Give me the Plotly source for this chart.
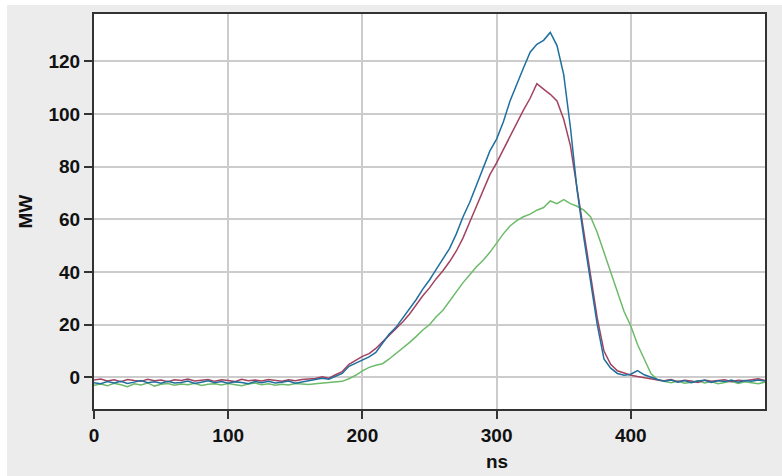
import plotly.graph_objects as go

ns = [5 * i for i in range(101)]

blue_mw = [
    -2.0, -2.4, -1.6, -2.1, -1.5, -2.3, -1.8, -1.2, -2.0, -1.7, -2.2, -1.5, -2.1, -1.9, -1.4, -2.3, -1.8,
    -1.3, -2.0, -1.6, -2.2, -1.7, -1.9, -2.4, -1.6, -2.0, -1.5, -2.1, -1.8, -1.4, -2.2, -1.7, -1.2,
    -0.8, -0.3, -0.7, 0.4, 1.5, 4.2, 5.5, 6.5, 7.8, 9.5,
    13.0, 16.5, 19.0, 22.5, 26.0, 29.5, 33.5, 37.0, 41.0, 45.0,
    49.0, 54.5, 61.0, 66.5, 73.0, 80.0, 86.0, 90.5, 97.0, 105.0,
    111.5, 117.5, 123.5, 126.5, 128.0, 131.0, 126.0, 115.0, 95.0, 71.0,
    53.0, 37.0, 20.0, 7.0, 3.5, 1.5, 0.8, 1.2, 2.6, 1.0,
    0.0,
    -0.8, -1.5, -1.0, -1.8, -1.2, -2.0, -1.4, -1.1, -1.9, -1.3, -1.6, -1.0, -1.8, -1.2, -1.5, -1.0, -1.4,
]

red_mw = [
    -1.0, -0.6, -1.4, -0.9, -1.6, -0.8, -1.2, -1.5, -0.7, -1.3, -1.0, -1.6, -0.9, -1.2, -0.6, -1.4, -1.1,
    -0.8, -1.5, -0.9, -1.2, -1.6, -0.7, -1.3, -1.0, -1.4, -0.8, -1.1, -1.5, -0.9, -1.3, -0.8, -0.6,
    -0.4, 0.2, -0.3, 1.0, 2.2, 5.0, 6.5, 8.0, 9.0, 11.0,
    13.5, 16.0, 18.5, 21.0, 24.0, 27.5, 31.0, 34.0, 37.5, 40.5,
    44.0, 48.0, 53.0, 59.0, 65.0, 71.0, 77.0, 81.5, 86.5, 92.0,
    97.0, 101.5, 106.0, 111.5, 109.5, 107.5, 105.0, 98.0, 88.0, 72.0,
    55.0, 38.5, 22.5, 10.0, 5.0, 2.5, 1.5, 0.8, 0.3, -0.2,
    -0.6,
    -1.0, -1.3, -0.8, -1.6, -1.1, -1.4, -1.9, -1.0, -1.5, -1.2, -0.9, -1.6, -1.1, -1.3, -0.8, -0.5, -1.2,
]

green_mw = [
    -3.0, -2.5, -3.2, -2.2, -2.8, -3.5, -2.4, -2.9, -2.1, -3.3, -2.6, -2.3, -3.0, -2.5, -2.8, -2.2, -3.1,
    -2.6, -2.4, -2.9, -2.3, -2.7, -3.2, -2.5, -2.1, -2.8, -2.4, -3.0, -2.6, -2.9, -2.3, -2.5, -2.7,
    -2.4, -2.2, -2.0, -1.9, -1.5, -0.5, 0.8, 2.5, 3.8, 4.6,
    5.2, 7.0, 9.0, 11.0, 13.2, 15.5, 18.0, 20.0, 23.0, 25.5,
    29.0, 32.5, 36.0, 39.0, 42.0, 44.5, 47.5, 51.0, 54.5, 57.5,
    59.5, 61.0, 62.0, 63.5, 64.5, 67.0, 66.0, 67.5, 66.0, 65.0,
    63.5, 61.0, 55.0, 47.5, 40.0, 32.0, 25.0, 19.5, 12.5, 7.0,
    1.5,
    -1.0, -1.6, -2.0, -1.4, -2.2, -1.8, -1.3, -2.1, -1.6, -2.4, -1.9, -1.5, -2.3, -1.7, -2.0, -2.4, -1.8,
]

x_ticks = [0, 100, 200, 300, 400]
y_ticks = [0, 20, 40, 60, 80, 100, 120]

label_font = dict(family="Liberation Sans, Arial", size=19, color="#111111", weight="bold")

fig = go.Figure()
fig.add_trace(go.Scatter(x=ns, y=green_mw, mode="lines", line=dict(color="#6dbb6a", width=1.5)))
fig.add_trace(go.Scatter(x=ns, y=red_mw, mode="lines", line=dict(color="#a3425f", width=1.5)))
fig.add_trace(go.Scatter(x=ns, y=blue_mw, mode="lines", line=dict(color="#1f6f9f", width=1.5)))

axis_common = dict(
    showline=True, linecolor="#333333", linewidth=2, mirror=True,
    ticks="outside", ticklen=8, tickwidth=2, tickcolor="#333333",
    showgrid=True, gridcolor="#cccccc", gridwidth=1.5, zeroline=False,
    tickfont=label_font,
)

fig.update_layout(
    width=782, height=476,
    margin=dict(l=94, r=17, t=14, b=67),
    paper_bgcolor="#ececec", plot_bgcolor="white",
    showlegend=False,
    xaxis=dict(range=[0, 500], tickvals=x_ticks, **axis_common),
    yaxis=dict(range=[-12, 138], tickvals=y_ticks, **axis_common),
    annotations=[
        dict(text="MW", xref="paper", yref="paper", x=(25 - 94) / 671, y=0.5, textangle=-90,
             showarrow=False, xanchor="center", yanchor="middle", font=label_font),
        dict(text="ns", xref="x", yref="paper", x=300, y=(409 - 461) / 395,
             showarrow=False, xanchor="center", yanchor="middle", font=label_font),
    ],
    shapes=[
        dict(type="rect", xref="paper", yref="paper", x0=-94 / 671, x1=(7 - 94) / 671,
             y0=-67 / 395, y1=1 + 14 / 395, fillcolor="white", line=dict(width=0), layer="above"),
        dict(type="rect", xref="paper", yref="paper", x0=-94 / 671, x1=1 + 17 / 671,
             y0=1 + 9 / 395, y1=1 + 14 / 395, fillcolor="white", line=dict(width=0), layer="above"),
    ],
)

fig.write_html("out.html")
